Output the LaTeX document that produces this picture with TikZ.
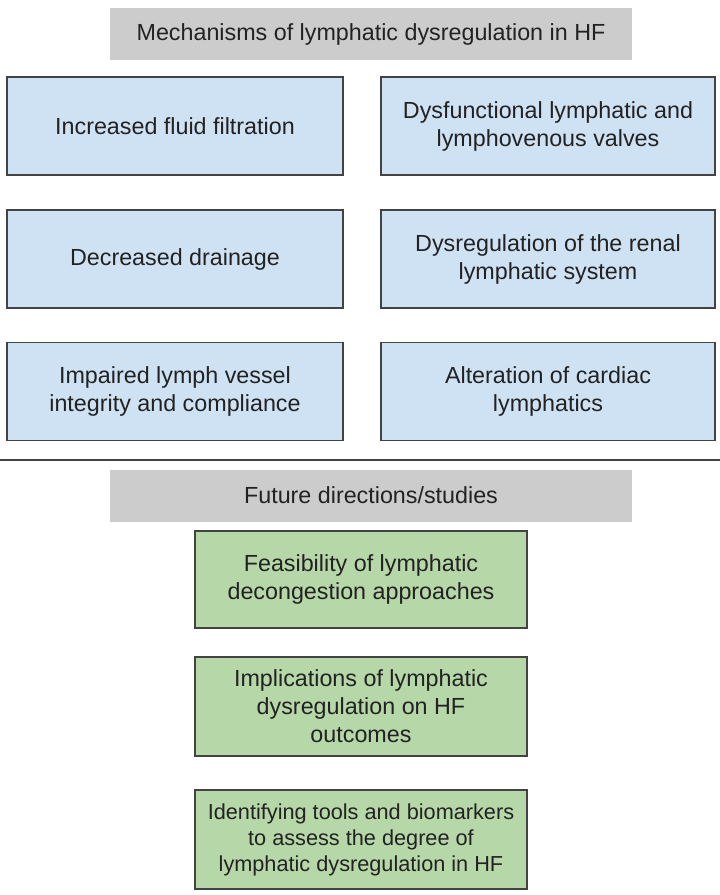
\documentclass[tikz,border=0pt]{standalone}
\usepackage{fontspec}
\setmainfont{Liberation Sans}
\usepackage{tikz}

\definecolor{headgray}{HTML}{CCCCCC}
\definecolor{mechblue}{HTML}{CFE2F3}
\definecolor{futgreen}{HTML}{B6D7A8}
\definecolor{edgegray}{HTML}{434343}
\definecolor{inkgray}{HTML}{222222}

\tikzset{
	headbox/.style={fill=headgray, text=inkgray, minimum width=522pt, minimum height=52pt, inner sep=0pt, align=center, font=\fontsize{23.3}{28}\selectfont},
	mechbox/.style={draw=edgegray, line width=1.3pt, fill=mechblue, text=inkgray, minimum height=98pt, inner sep=0pt, align=center, font=\fontsize{23.3}{28}\selectfont},
	futbox/.style={draw=edgegray, line width=1.3pt, fill=futgreen, text=inkgray, minimum width=332pt, inner sep=0pt, align=center, font=\fontsize{23.3}{28}\selectfont}
}

\begin{document}
\begin{tikzpicture}[x=1pt,y=-1pt]
	\useasboundingbox (0,0) rectangle (720,895);
	\fill[white] (0,0) rectangle (720,895);
	\node [headbox] (mech) at (371,34) {Mechanisms of lymphatic dysregulation in HF};
	\node [mechbox, minimum width=336pt] (filt) at (175,126) {Increased fluid filtration};
	\node [mechbox, minimum width=334pt] (valv) at (548,126) {Dysfunctional lymphatic and\\lymphovenous valves};
	\node [mechbox, minimum width=336pt] (drain) at (175,259) {Decreased drainage};
	\node [mechbox, minimum width=334pt] (renal) at (548,259) {Dysregulation of the renal\\lymphatic system};
	\node [mechbox, minimum width=336pt] (integ) at (175,391.5) {Impaired lymph vessel\\integrity and compliance};
	\node [mechbox, minimum width=334pt] (card) at (548,391.5) {Alteration of cardiac\\lymphatics};
        \coordinate (sepl) at (0,460);
        \coordinate (sepr) at (720,460);
        \draw [edgegray, line width=1.3pt] (sepl)--(sepr);
	\node [headbox] (fut) at (371,495.5) {Future directions/studies};
	\node [futbox, minimum height=97pt] (feas) at (361,579.5) {Feasibility of lymphatic\\decongestion approaches};
	\node [futbox, minimum height=99pt] (impl) at (361,706.5) {Implications of lymphatic\\dysregulation on HF\\outcomes};
	\node [futbox, minimum height=99pt, font=\fontsize{21.7}{26}\selectfont] (tools) at (361,839.5) {Identifying tools and biomarkers\\to assess the degree of\\lymphatic dysregulation in HF};
\end{tikzpicture}
\end{document}
